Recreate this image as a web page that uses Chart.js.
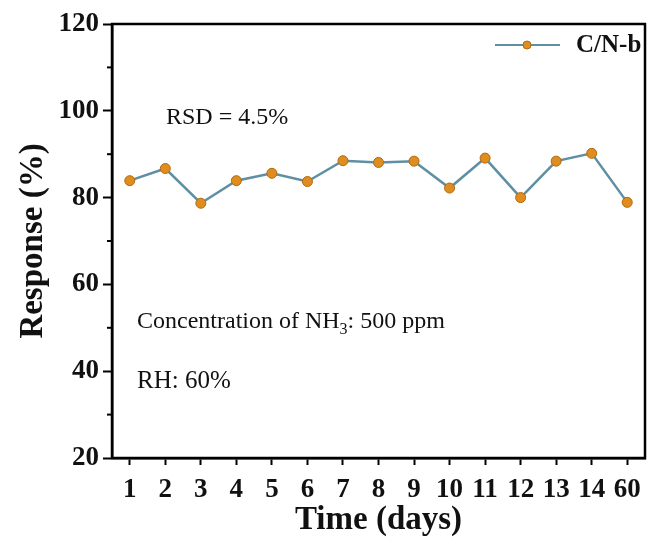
<!DOCTYPE html>
<html>
<head>
<meta charset="utf-8">
<script src="https://cdn.jsdelivr.net/npm/chart.js@4"></script>
<style>
  html, body { margin: 0; padding: 0; background: #fff; }
  #wrap { width: 651px; height: 542px; }
</style>
</head>
<body>
<div id="wrap"><canvas id="stabilityChart" width="651" height="542"></canvas></div>
<script>
// values
const days = ['1', '2', '3', '4', '5', '6', '7', '8', '9', '10', '11', '12', '13', '14', '60'];
const response = [83.9, 86.7, 78.7, 83.9, 85.6, 83.7, 88.5, 88.1, 88.4, 82.2, 89.1, 80.0, 88.4, 90.2, 78.9];
const yTicks = [20, 40, 60, 80, 100, 120];
const yMinorTicks = [30, 50, 70, 90, 110];
const seriesName = 'C/N-b';

const serif = "'Liberation Serif', 'Times New Roman', serif";
const lineColor = '#5f8fa2';
const dotColor = '#df8d1f';
const dotBorder = '#b3690f';

// white bg, frame, minor ticks, notes and legend
const extras = {
  id: 'extras',
  beforeDraw(chart) {
    const ctx = chart.ctx;
    ctx.save();
    ctx.fillStyle = '#fff';
    ctx.fillRect(0, 0, chart.width, chart.height);
    ctx.restore();
  },
  afterDraw(chart) {
    const ctx = chart.ctx;
    const a = chart.chartArea;
    const y = chart.scales.y;
    ctx.save();
    ctx.strokeStyle = '#000';
    ctx.lineWidth = 2.5;
    ctx.strokeRect(a.left, a.top, a.right - a.left, a.bottom - a.top);

    ctx.lineWidth = 2;
    yMinorTicks.forEach(v => {
      const py = y.getPixelForValue(v);
      ctx.beginPath();
      ctx.moveTo(a.left - 5, py);
      ctx.lineTo(a.left, py);
      ctx.stroke();
    });

    ctx.fillStyle = '#111';
    ctx.textBaseline = 'middle';
    ctx.textAlign = 'left';
    ctx.font = '24px ' + serif;
    ctx.fillText('RSD = 4.5%', 166, 118);

    let x = 137;
    const t1 = 'Concentration of NH';
    ctx.fillText(t1, x, 322);
    x += ctx.measureText(t1).width;
    ctx.font = '16px ' + serif;
    ctx.fillText('3', x, 330);
    x += ctx.measureText('3').width;
    ctx.font = '24px ' + serif;
    ctx.fillText(': 500 ppm', x, 322);
    ctx.font = '25px ' + serif;
    ctx.fillText('RH: 60%', 137, 381);

    // legend
    const ly = 45;
    ctx.strokeStyle = lineColor;
    ctx.lineWidth = 2;
    ctx.beginPath();
    ctx.moveTo(495, ly);
    ctx.lineTo(560, ly);
    ctx.stroke();
    ctx.fillStyle = dotColor;
    ctx.strokeStyle = dotBorder;
    ctx.lineWidth = 1;
    ctx.beginPath();
    ctx.arc(527, ly, 4, 0, Math.PI * 2);
    ctx.fill();
    ctx.stroke();
    ctx.fillStyle = '#111';
    ctx.font = 'bold 25px ' + serif;
    ctx.fillText(seriesName, 576, ly + 1);
    ctx.restore();
  }
};

const ctx = document.getElementById('stabilityChart').getContext('2d');
const stabilityChart = new Chart(ctx, {
  type: 'line',
  data: {
    labels: days,
    datasets: [{
      label: seriesName,
      data: response,
      borderColor: lineColor,
      borderWidth: 2.5,
      pointRadius: 5,
      pointBackgroundColor: dotColor,
      pointBorderColor: dotBorder,
      pointBorderWidth: 1,
      tension: 0
    }]
  },
  options: {
    responsive: false,
    animation: false,
    layout: { padding: { top: 24, right: 4, left: 0, bottom: 0 } },
    plugins: {
      legend: { display: false },
      tooltip: { enabled: false }
    },
    scales: {
      x: {
        type: 'category',
        offset: true,
        border: { display: true, color: '#000', width: 2.5 },
        grid: { display: true, drawOnChartArea: false, drawTicks: true, tickLength: 7, tickColor: '#000', tickWidth: 2, offset: false },
        ticks: { color: '#111', font: { family: serif, size: 27, weight: 'bold' }, padding: 9, maxRotation: 0, autoSkip: false },
        title: { display: true, text: 'Time (days)', color: '#111', font: { family: serif, size: 33, weight: 'bold' }, padding: { top: 0, bottom: 2 } },
        afterFit(scale) { scale.height = 84; }
      },
      y: {
        min: 20,
        max: 120,
        afterBuildTicks(scale) { scale.ticks = yTicks.map(v => ({ value: v })); },
        border: { display: true, color: '#000', width: 2.5 },
        grid: { display: true, drawOnChartArea: false, drawTicks: true, tickLength: 9, tickColor: '#000', tickWidth: 2 },
        ticks: { color: '#111', font: { family: serif, size: 27, weight: 'bold' }, padding: 4 },
        title: { display: true, text: 'Response (%)', color: '#111', font: { family: serif, size: 33, weight: 'bold' }, padding: { top: 14, bottom: 0 } },
        afterFit(scale) { scale.width = 112; }
      }
    }
  },
  plugins: [extras]
});
</script>
</body>
</html>
